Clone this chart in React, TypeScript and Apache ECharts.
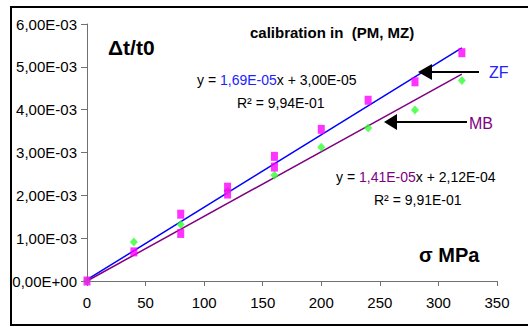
import React, { useEffect, useRef } from "react";
import * as echarts from "echarts";

const zfX = [0, 40, 80, 80, 120, 120, 160, 160, 200, 240, 280, 320];
const zfY = [0, 0.00068, 0.00156, 0.00111, 0.00219, 0.00203, 0.00291, 0.00266, 0.00354, 0.00422, 0.00465, 0.00533];
const mbX = [0, 40, 80, 120, 160, 200, 240, 280, 320];
const mbY = [0, 0.00091, 0.00132, 0.0021, 0.00247, 0.00312, 0.00357, 0.00399, 0.00468];
const zfFit = [[0, 0.00003], [320, 0.00544]];
const mbFit = [[0, 0.0], [320, 0.00483]];
const yTickLabels = ["0,00E+00", "1,00E-03", "2,00E-03", "3,00E-03", "4,00E-03", "5,00E-03", "6,00E-03"];
const xTickLabels = ["0", "50", "100", "150", "200", "250", "300", "350"];

const FONT = "'Liberation Sans', Arial, sans-serif";

export default function App() {
  const ref = useRef<HTMLDivElement>(null);
  useEffect(() => {
    if (!ref.current) return;
    const chart = echarts.init(ref.current, null, { renderer: "svg" });
    const txt = (x: number, y: number, text: string, extra: any = {}) => ({
      type: "text",
      x,
      y,
      z: 100,
      style: {
        text,
        fontFamily: FONT,
        fontSize: 14,
        fill: "#000",
        align: "left",
        verticalAlign: "middle",
        ...extra,
      },
    });
    chart.setOption({
      animation: false,
      backgroundColor: "#fff",
      grid: { left: 87, right: 31, top: 24, bottom: 46, containLabel: false },
      xAxis: {
        type: "value",
        min: 0,
        max: 350,
        interval: 50,
        axisLine: { show: true, lineStyle: { color: "#707070", width: 1 } },
        axisTick: { show: true, inside: false, length: 5, lineStyle: { color: "#707070" } },
        splitLine: { show: false },
        axisLabel: {
          color: "#000",
          fontFamily: FONT,
          fontSize: 15,
          margin: 14,
          formatter: (_v: number, i: number) => xTickLabels[i],
        },
      },
      yAxis: {
        type: "value",
        min: 0,
        max: 0.006,
        interval: 0.001,
        axisLine: { show: true, lineStyle: { color: "#707070", width: 1 } },
        axisTick: { show: true, inside: false, length: 6, lineStyle: { color: "#707070" } },
        splitLine: { show: false },
        axisLabel: {
          color: "#000",
          fontFamily: FONT,
          fontSize: 15,
          margin: 10,
          formatter: (_v: number, i: number) => yTickLabels[i],
        },
      },
      series: [
        {
          type: "line",
          data: zfFit,
          symbol: "none",
          lineStyle: { color: "#0000ff", width: 1.5 },
          z: 3,
        },
        {
          type: "line",
          data: mbFit,
          symbol: "none",
          lineStyle: { color: "#800080", width: 1.5 },
          z: 3,
        },
        {
          type: "scatter",
          data: mbX.map((x, i) => [x, mbY[i]]),
          symbol: "diamond",
          symbolSize: [8, 9],
          itemStyle: { color: "#33ff33" },
          z: 4,
        },
        {
          type: "scatter",
          data: zfX.map((x, i) => [x, zfY[i]]),
          symbol: "rect",
          symbolSize: [7, 9],
          itemStyle: { color: "#ff00ff" },
          z: 5,
        },
      ],
      graphic: [
        {
          type: "rect",
          shape: { x: 11, y: 7, width: 530, height: 318 },
          style: { fill: "none", stroke: "#000", lineWidth: 2 },
          z: 100,
        },
        txt(108, 47, "Δt/t0", { fontSize: 21, fontWeight: "bold" }),
        txt(250, 32, "calibration in  (PM, MZ)", { fontSize: 15, fontWeight: "bold" }),
        txt(197, 80, "y = {b|1,69E-05}x + 3,00E-05", {
          rich: { b: { fill: "#2222ff", color: "#2222ff", fontSize: 14, fontFamily: FONT } },
        }),
        txt(237, 103, "R² = 9,94E-01"),
        txt(336, 177, "y = {p|1,41E-05}x + 2,12E-04", {
          rich: { p: { fill: "#800080", color: "#800080", fontSize: 14, fontFamily: FONT } },
        }),
        txt(374, 200, "R² = 9,91E-01"),
        txt(419, 255, "σ MPa", { fontSize: 20, fontWeight: "bold" }),
        txt(489, 72, "ZF", { fontSize: 16, fill: "#2222ff" }),
        txt(469, 123, "MB", { fontSize: 16, fill: "#800080" }),
        {
          type: "line",
          shape: { x1: 430, y1: 72, x2: 479, y2: 72 },
          style: { stroke: "#000", lineWidth: 2 },
          z: 100,
        },
        {
          type: "polygon",
          shape: { points: [[418, 72], [432, 64], [432, 80]] },
          style: { fill: "#000" },
          z: 100,
        },
        {
          type: "line",
          shape: { x1: 395, y1: 122, x2: 467, y2: 122 },
          style: { stroke: "#000", lineWidth: 2 },
          z: 100,
        },
        {
          type: "polygon",
          shape: { points: [[384, 122], [397, 114], [397, 130]] },
          style: { fill: "#000" },
          z: 100,
        },
      ],
    });
    return () => chart.dispose();
  }, []);
  return (
    <div
      ref={ref}
      style={{ position: "fixed", left: 0, top: 0, width: 528, height: 327 }}
    />
  );
}
